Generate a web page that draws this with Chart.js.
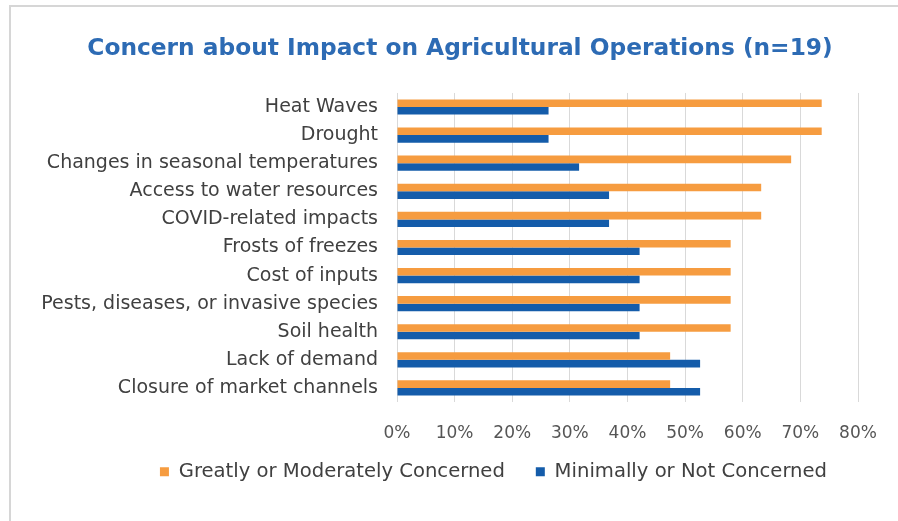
<!DOCTYPE html>
<html>
<head>
<meta charset="utf-8">
<script src="https://cdn.jsdelivr.net/npm/chart.js@4.4.1/dist/chart.umd.min.js"></script>
<style>
  html, body { margin: 0; padding: 0; background: #fff; }
  #wrap { position: relative; width: 898px; height: 521px; overflow: hidden; }
  #marco { position: absolute; left: 9px; top: 5px; width: 1000px; height: 600px;
           border-top: 2px solid #d6d6d6; border-left: 2px solid #d6d6d6; }
  canvas { position: absolute; left: 0; top: 0; }
</style>
</head>
<body>
<div id="wrap">
  <div id="marco"></div>
  <canvas id="grafico" width="898" height="521"></canvas>
</div>
<script>
// Datos del gráfico
const categorias = [
    'Heat Waves',
    'Drought',
    'Changes in seasonal temperatures',
    'Access to water resources',
    'COVID-related impacts',
    'Frosts of freezes',
    'Cost of inputs',
    'Pests, diseases, or invasive species',
    'Soil health',
    'Lack of demand',
    'Closure of market channels',
];
const preocupados = [73.7, 73.7, 68.4, 63.2, 63.2, 57.9, 57.9, 57.9, 57.9, 47.4, 47.4];
const noPreocupados = [26.3, 26.3, 31.6, 36.8, 36.8, 42.1, 42.1, 42.1, 42.1, 52.6, 52.6];
const marcasX = [0, 10, 20, 30, 40, 50, 60, 70, 80];

const fuente = "'DejaVu Sans', sans-serif";
const graficoCanvas = document.getElementById('grafico');

// Ajustes finos: título centrado sobre el gráfico y leyenda más pegada al eje
const ajustarBloques = {
    id: 'ajustarBloques',
    afterLayout(chart) {
        chart.titleBlock.left += 62;
        chart.legend.top -= 16;
        chart.legend.bottom -= 16;
    },
};

new Chart(graficoCanvas, {
    type: 'bar',
    data: {
        labels: categorias,
        datasets: [
            {
                label: 'Greatly or Moderately Concerned',
                data: preocupados,
                backgroundColor: '#F69C40',
                categoryPercentage: 0.54,
                barPercentage: 1.0,
            },
            {
                label: 'Minimally or Not Concerned',
                data: noPreocupados,
                backgroundColor: '#145CAA',
                categoryPercentage: 0.54,
                barPercentage: 1.0,
            },
        ]
    },
    plugins: [ajustarBloques],
    options: {
        indexAxis: 'y',
        responsive: false,
        animation: false,
        layout: { padding: { left: 0, right: 40, top: 5, bottom: 13.4 } },
        scales: {
            x: {
                min: marcasX[0],
                max: marcasX[marcasX.length - 1],
                afterBuildTicks: (eje) => { eje.ticks = marcasX.map(v => ({ value: v })); },
                afterFit: (eje) => { eje.height = 45; },
                grid: { color: '#d9d9d9', drawTicks: false },
                border: { display: false },
                ticks: {
                    padding: 21,
                    color: '#555',
                    font: { family: fuente, size: 17 },
                    callback: (v) => v + '%',
                },
            },
            y: {
                afterFit: (eje) => { eje.width = 397; },
                grid: { display: false, drawTicks: false },
                border: { display: false },
                ticks: {
                    padding: 19,
                    color: '#404040',
                    font: { family: fuente, size: 19 },
                },
            },
        },
        plugins: {
            title: {
                display: true,
                text: 'Concern about Impact on Agricultural Operations (n=19)',
                color: '#2D6BB4',
                font: { family: fuente, size: 23.3, weight: 'bold' },
                padding: { top: 29.5, bottom: 30.5 },
            },
            legend: {
                position: 'bottom',
                align: 'end',
                labels: {
                    boxWidth: 9,
                    boxHeight: 9,
                    padding: 31,
                    color: '#404040',
                    font: { family: fuente, size: 19.6 },
                },
            },
            tooltip: { enabled: false },
        },
    },
});
</script>
</body>
</html>
